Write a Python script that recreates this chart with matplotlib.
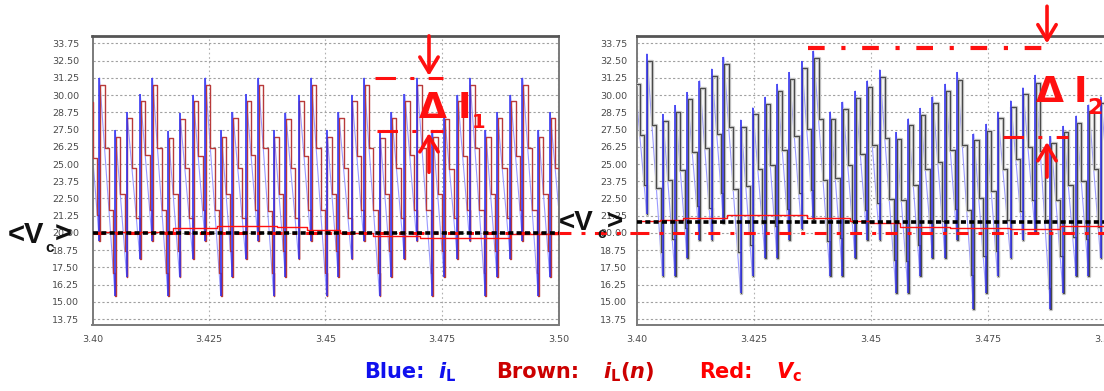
import numpy as np
import matplotlib
matplotlib.use("Agg")
import matplotlib.pyplot as plt

plt.rcParams['font.family'] = ['Liberation Sans', 'DejaVu Sans']
plt.rcParams['mathtext.fontset'] = 'custom'
plt.rcParams['mathtext.rm'] = 'DejaVu Sans:bold'
plt.rcParams['mathtext.it'] = 'DejaVu Sans:italic:bold'
plt.rcParams['mathtext.bf'] = 'DejaVu Sans:bold'

# ---------------- axis ticks ----------------
x_ticks = [3.40, 3.425, 3.45, 3.475, 3.50]
x_tick_labels = ["3.40", "3.425", "3.45", "3.475", "3.50"]
y_ticks = [13.75, 15.00, 16.25, 17.50, 18.75, 20.00, 21.25, 22.50, 23.75,
           25.00, 26.25, 27.50, 28.75, 30.00, 31.25, 32.50, 33.75]
y_tick_labels = ["13.75", "15.00", "16.25", "17.50", "18.75", "20.00", "21.25",
                 "22.50", "23.75", "25.00", "26.25", "27.50", "28.75", "30.00",
                 "31.25", "32.50", "33.75"]

# ---------------- left case: switching instants, valley / peak current ----------------
left_switch_t = [3.39895,
                 3.40146, 3.40483, 3.40734, 3.41019,
                 3.41281, 3.41618, 3.41869, 3.42155,
                 3.42416, 3.42753, 3.43004, 3.43290,
                 3.43552, 3.43888, 3.44139, 3.44425,
                 3.44687, 3.45024, 3.45275, 3.45560,
                 3.45822, 3.46159, 3.46410, 3.46695,
                 3.46957, 3.47294, 3.47545, 3.47830,
                 3.48092, 3.48429, 3.48680, 3.48966,
                 3.49227, 3.49564, 3.49815, 3.50101]
left_valley = [18.10,
               19.40, 15.45, 16.80, 18.10,
               19.40, 15.45, 16.80, 18.10,
               19.40, 15.45, 16.80, 18.10,
               19.40, 15.45, 16.80, 18.10,
               19.40, 15.45, 16.80, 18.10,
               19.40, 15.45, 16.80, 18.10,
               19.40, 15.45, 16.80, 18.10,
               19.40, 15.45, 16.80, 18.10,
               19.40, 15.45, 16.80, 18.10]
left_peak = [30.00,
             31.25, 27.45, 28.75, 30.05,
             31.25, 27.40, 28.70, 30.00,
             31.25, 27.45, 28.75, 30.05,
             31.25, 27.45, 28.70, 30.00,
             31.25, 27.45, 28.75, 30.00,
             31.25, 27.40, 28.75, 30.05,
             31.25, 27.45, 28.70, 30.00,
             31.25, 27.45, 28.75, 30.00,
             31.25, 27.45, 28.75, 30.00]
left_vc_t = [3.40000, 3.41019, 3.41727, 3.42672, 3.43959, 3.44603,
             3.45311, 3.46019, 3.47028, 3.48315, 3.48959, 3.50000]
left_vc = [20.05, 20.10, 20.35, 20.50, 20.45, 20.20,
           20.00, 19.80, 19.60, 19.65, 19.90, 20.00]
left_vc_avg = 20.0

# ---------------- right case ----------------
right_switch_t = [3.39947, 3.40207, 3.40545, 3.40812, 3.41068, 3.41335, 3.41592, 3.41848,
                  3.42212, 3.42468, 3.42735, 3.42991, 3.43248, 3.43515, 3.43767,
                  3.44124, 3.44391, 3.44658, 3.44915, 3.45182,
                  3.45534, 3.45791, 3.46047, 3.46314, 3.46581, 3.46838,
                  3.47190, 3.47457, 3.47703, 3.47981, 3.48241, 3.48504,
                  3.48835, 3.49103, 3.49380, 3.49647, 3.49904, 3.50171]
right_valley = [20.40, 21.40, 16.87, 16.87, 18.20, 19.50, 19.50, 20.70,
                15.67, 16.87, 18.20, 18.20, 19.50, 20.30, 21.00,
                16.87, 16.87, 18.20, 19.50, 19.50,
                15.67, 15.67, 16.87, 18.20, 18.20, 19.50,
                14.47, 15.67, 16.87, 18.20, 19.50, 20.10,
                14.47, 15.67, 16.87, 16.87, 18.20, 19.50]
right_peak = [31.20, 33.00, 28.60, 29.25, 30.20, 31.05, 31.90, 32.75,
              28.20, 29.10, 29.85, 30.80, 31.65, 32.45, 33.20,
              28.80, 29.50, 30.30, 31.05, 31.85,
              27.30, 28.30, 29.05, 29.90, 30.80, 31.65,
              27.20, 27.90, 28.80, 29.60, 30.55, 31.45,
              27.00, 27.75, 28.50, 29.30, 29.90, 30.70]
right_vc_t = [3.40000, 3.40491, 3.40983, 3.41923, 3.43056, 3.43632, 3.44551,
              3.44979, 3.45620, 3.46688, 3.47970, 3.49038, 3.50000]
right_vc = [20.90, 20.95, 21.10, 21.30, 21.30, 21.05, 20.90,
            20.70, 20.45, 20.35, 20.30, 20.50, 20.60]
right_vc_avg = 20.8

vc_ref = 20.0
delta_i1_levels = [31.25, 27.40]
delta_i2_levels = [33.40, 26.95]

# ---------------- helpers ----------------
RISE = 0.00006          # duration of the switch-on edge
SAMPLE_DELAY = 0.00017  # first sample after the switching instant
SAMPLE_PERIOD = 0.00095


def inductor_current(switch_t, valley, peak):
    t, v = [], []
    for tk, lo, hi in zip(switch_t, valley, peak):
        t += [tk, tk + RISE]
        v += [lo, hi]
    return np.array(t), np.array(v)


def sampled_current(switch_t, t, v):
    ts = []
    for k in range(len(switch_t) - 1):
        tk = switch_t[k]
        ts.append(tk)
        ts.extend(np.arange(tk + SAMPLE_DELAY, switch_t[k + 1] - 1e-5, SAMPLE_PERIOD))
    ts = np.array(ts)
    return ts, np.interp(ts, t, v)


W, H = 1104, 391
fig = plt.figure(figsize=(W / 100, H / 100), dpi=100)


def px_axes(x0, y0, x1, y1, **kw):
    return fig.add_axes([x0 / W, 1 - y1 / H, (x1 - x0) / W, (y1 - y0) / H], **kw)


ax_l = px_axes(92.5, 36, 558.5, 325)
ax_r = px_axes(637, 36, 1105, 325)

RED = '#ff1010'
DASHDOT = (0, (3.9, 3.3, 1.3, 3.1))


def setup(ax, ypad, step_color, switch_t, valley, peak, vc_t, vc, vc_avg):
    ax.set_xlim(3.40, 3.50)
    ax.set_ylim(13.32, 34.29)
    ax.set_xticks(x_ticks, x_tick_labels)
    ax.set_yticks(y_ticks, y_tick_labels)
    ax.tick_params(axis='both', length=0, labelsize=6.8, labelcolor='#4a4a4a')
    ax.tick_params(axis='y', pad=ypad)
    ax.tick_params(axis='x', pad=7)
    for lab in ax.get_xticklabels() + ax.get_yticklabels():
        lab.set_fontfamily('DejaVu Sans')
    ax.grid(axis='y', color='#a0a0a0', lw=0.8, ls=(0, (2, 2)))
    ax.grid(axis='x', color='#b0b0b0', lw=0.8, ls=(0, (1.5, 2.5)))
    ax.set_axisbelow(True)
    for side, sp in ax.spines.items():
        sp.set_color('#7a7a7a')
        sp.set_linewidth(1.4)
    ax.spines['top'].set_color('#555555')
    ax.spines['top'].set_linewidth(2.0)

    t, v = inductor_current(switch_t, valley, peak)
    ax.plot(t, v, color='#9a9aff', lw=0.8, zorder=2)
    ts, vs = sampled_current(switch_t, t, v)
    if step_color == 'gray':
        ax.plot(ts, vs, color='#c4c4c4', lw=2.4, drawstyle='steps-post', zorder=3)
        ax.plot(ts, vs, color='#4a4a4a', lw=0.8, drawstyle='steps-post', zorder=3.2)
    else:
        ax.plot(ts, vs, color='#b83a3a', lw=1.0, drawstyle='steps-post', zorder=3)
    ax.vlines(switch_t, valley, peak, color='#3030f0', lw=1.3, alpha=0.85, zorder=3.5)

    ax.plot(vc_t, vc, color=RED, lw=1.0, drawstyle='steps-post', zorder=4)
    ax.axhline(vc_ref, color=RED, lw=2.2, ls=DASHDOT, zorder=5)
    ax.axhline(vc_avg, color='black', lw=2.6, ls=(0, (1.4, 0.9)), zorder=6)


setup(ax_l, 9.5, 'brown', left_switch_t, left_valley, left_peak,
      left_vc_t, left_vc, left_vc_avg)
setup(ax_r, 7.0, 'gray', right_switch_t, right_valley, right_peak,
      right_vc_t, right_vc, right_vc_avg)

# ---------------- Delta I annotations ----------------
arrow_kw = dict(arrowstyle='->,head_length=0.5,head_width=0.3', lw=2.6,
                color=RED, mutation_scale=22, shrinkA=0, shrinkB=0)

for lvl, x0 in zip(delta_i1_levels, [3.46062, 3.46105]):
    ax_l.plot([x0, 3.47521], [lvl, lvl], color=RED, lw=2.2,
              ls=(0, (6.7, 4.7, 1.3, 4.7)), clip_on=False, zorder=7)
ax_l.annotate('', xy=(3.47221, 31.40), xytext=(3.47221, 34.30),
              arrowprops=arrow_kw, annotation_clip=False, zorder=7)
ax_l.annotate('', xy=(3.47221, 27.25), xytext=(3.47221, 24.40),
              arrowprops=arrow_kw, annotation_clip=False, zorder=7)

ax_r.plot([3.43654, 3.48996], [delta_i2_levels[0]] * 2, color=RED, lw=3.0,
          ls=(0, (4, 4, 1, 4)), clip_on=False, zorder=7)
ax_r.plot([3.47821, 3.49209], [delta_i2_levels[1]] * 2, color=RED, lw=2.2,
          ls=(0, (6.7, 4.7, 1.3, 4.7)), clip_on=False, zorder=7)
ax_r.annotate('', xy=(3.48761, 33.75), xytext=(3.48761, 36.45),
              arrowprops=arrow_kw, annotation_clip=False, zorder=7)
ax_r.annotate('', xy=(3.48761, 26.60), xytext=(3.48761, 24.05),
              arrowprops=arrow_kw, annotation_clip=False, zorder=7)

# ---------------- overlay for labels (pixel coordinates) ----------------
ov = fig.add_axes([0, 0, 1, 1], zorder=10)
ov.set_xlim(0, W)
ov.set_ylim(H, 0)
ov.axis('off')
ov.patch.set_alpha(0)

# reference line continuing between the panels
ov.plot([559, 637], [233, 233], color=RED, lw=2.2, ls=DASHDOT)

bold = dict(fontweight='bold', va='baseline', ha='left')
ov.text(419, 118, 'Δ', color=RED, fontsize=26, family='DejaVu Sans', **bold)
ov.text(458, 118, 'I', color=RED, fontsize=26, family='DejaVu Sans', **bold)
ov.text(472, 128, '1', color=RED, fontsize=14, family='DejaVu Sans', **bold)

ov.text(1036, 102, 'Δ', color=RED, fontsize=26, family='DejaVu Sans', **bold)
ov.text(1074, 102, 'I', color=RED, fontsize=26, family='DejaVu Sans', **bold)
ov.text(1087, 114, '2', color=RED, fontsize=16, family='DejaVu Sans', **bold)

ov.text(8, 243, '<V', color='#111111', fontsize=21, family='Liberation Sans', **bold)
ov.text(45, 252, 'c', color='#111111', fontsize=11, family='Liberation Sans', **bold)
ov.text(55, 243, '>', color='#111111', fontsize=21, family='Liberation Sans', **bold)

ov.text(559, 230, '<V', color='#111111', fontsize=20, family='Liberation Sans', **bold)
ov.text(597, 238, 'c', color='#111111', fontsize=11, family='Liberation Sans', **bold)
ov.text(607, 230, '>', color='#111111', fontsize=20, family='Liberation Sans', **bold)

# colour key
key_kw = dict(fontsize=15, family='DejaVu Sans', **bold)
ov.text(364, 378, 'Blue:', color='#1010ee', **key_kw)
ov.text(438, 378, r'$i_{\mathrm{L}}$', color='#1010ee', **key_kw)
ov.text(496, 378, 'Brown:', color='#cc0000', **key_kw)
ov.text(603, 378, r'$i_{\mathrm{L}}(n)$', color='#cc0000', **key_kw)
ov.text(699, 378, 'Red:', color='#ff0000', **key_kw)
ov.text(776, 378, r'$V_{\mathrm{c}}$', color='#ff0000', **key_kw)

fig.savefig('out.png', dpi=100)
